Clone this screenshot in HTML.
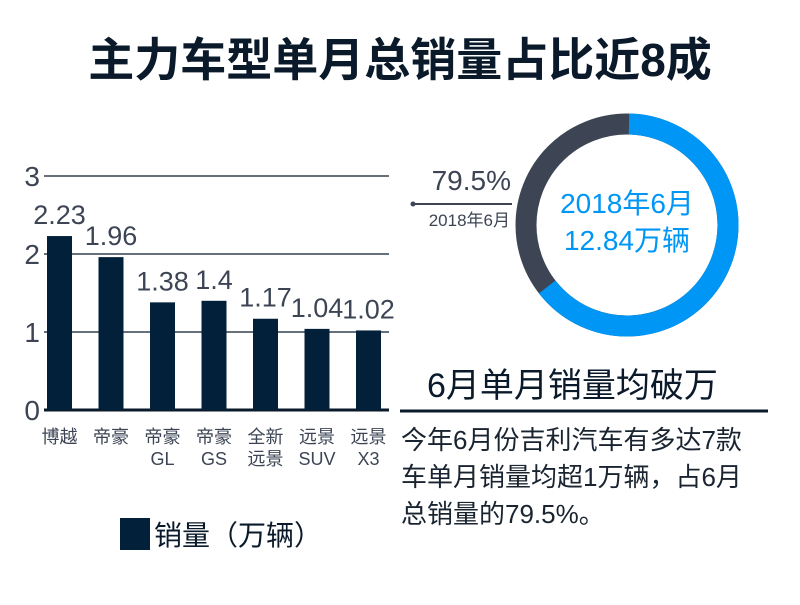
<!DOCTYPE html>
<html><head><meta charset="utf-8"><style>
body{margin:0;background:#fff;width:800px;height:600px;overflow:hidden;font-family:"Liberation Sans","Noto Sans CJK SC",sans-serif;}
</style></head><body>
<svg width="800" height="600" viewBox="0 0 800 600" style="font-family:'Liberation Sans','Noto Sans CJK SC',sans-serif">
<text x="400" y="76" text-anchor="middle" font-size="46" font-weight="bold" fill="#0a1a2a">主力车型单月总销量占比近8成</text>
<g id="chart"></g>
<g>
<rect x="120" y="518" width="30" height="32" fill="#03203a"/>
<text x="154" y="545" font-size="28" fill="#0a1a2a">销量（万辆）</text>
</g>
<g>
<circle cx="627" cy="225" r="101" fill="none" stroke="#3d4555" stroke-width="21"/>
<path id="blueArc" fill="none" stroke="#0096f5" stroke-width="21"/>
<text x="627" y="213" text-anchor="middle" font-size="28" fill="#0096f5">2018年6月</text>
<text x="627" y="250" text-anchor="middle" font-size="28" fill="#0096f5">12.84万辆</text>
<text x="511" y="190" text-anchor="end" font-size="28" fill="#3d4555">79.5%</text>
<line x1="413" y1="204" x2="512" y2="204" stroke="#3d4555" stroke-width="2"/>
<circle cx="413" cy="204" r="2.5" fill="#3d4555"/>
<text x="510" y="226" text-anchor="end" font-size="17" fill="#3d4555">2018年6月</text>
</g>
<text x="427" y="397" font-size="34" fill="#0a1a2a">6月单月销量均破万</text>
<line x1="400" y1="411" x2="768" y2="411" stroke="#0a1a2a" stroke-width="3"/>
<g font-size="26" fill="#1a2430">
<text x="401" y="449">今年6月份吉利汽车有多达7款</text>
<text x="401" y="486">车单月销量均超1万辆，占6月</text>
<text x="401" y="523">总销量的79.5%。</text>
</g>
</svg>
<script>
const categories=[["博越"],["帝豪"],["帝豪","GL"],["帝豪","GS"],["全新","远景"],["远景","SUV"],["远景","X3"]];
const values=[2.23,1.96,1.38,1.4,1.17,1.04,1.02];
const valueLabels=["2.23","1.96","1.38","1.4","1.17","1.04","1.02"];
const ticks=[0,1,2,3];
const shareFraction=[0.645];
const NS="http://www.w3.org/2000/svg";
const g=document.getElementById('chart');
const y=v=>410-v*78;
const x=i=>47+i*51.5;
function el(t,a,p){const e=document.createElementNS(NS,t);for(const k in a)e.setAttribute(k,a[k]);(p||g).appendChild(e);return e;}
ticks.forEach(t=>{
 const l=el('line',{x1:44,x2:389,y1:y(t),y2:y(t),stroke:'#0a1a2a','stroke-width':t===0?3:1.3});
 
 
 const tx=el('text',{x:40,y:y(t)+10,'text-anchor':'end','font-size':28,fill:'#3d4555'});
 tx.textContent=t;
 
 
});
values.forEach((v,i)=>{
 const r=el('rect',{x:x(i),y:y(v),width:25,height:410-y(v),fill:'#03203a'});
 
 
 const t=el('text',{x:x(i)+12.5,y:y(v)-12,'text-anchor':'middle','font-size':27,fill:'#3d4555'});
 t.textContent=valueLabels[i];
 
 
 categories[i].forEach((c,j)=>{
  const ct=el('text',{x:x(i)+12.5,y:443+j*22,'text-anchor':'middle','font-size':18,fill:'#3d4555'});
  ct.textContent=c;
  
  
 });
});
(function(){const cx=627,cy=225,r=101,a=shareFraction[0]*2*Math.PI,a0=0.02;
const sx=cx+r*Math.sin(a0),sy=cy-r*Math.cos(a0),ex=cx+r*Math.sin(a),ey=cy-r*Math.cos(a);
document.getElementById('blueArc').setAttribute('d',`M${sx} ${sy} A${r} ${r} 0 ${a-a0>Math.PI?1:0} 1 ${ex} ${ey}`);})();
</script>
</body></html>
